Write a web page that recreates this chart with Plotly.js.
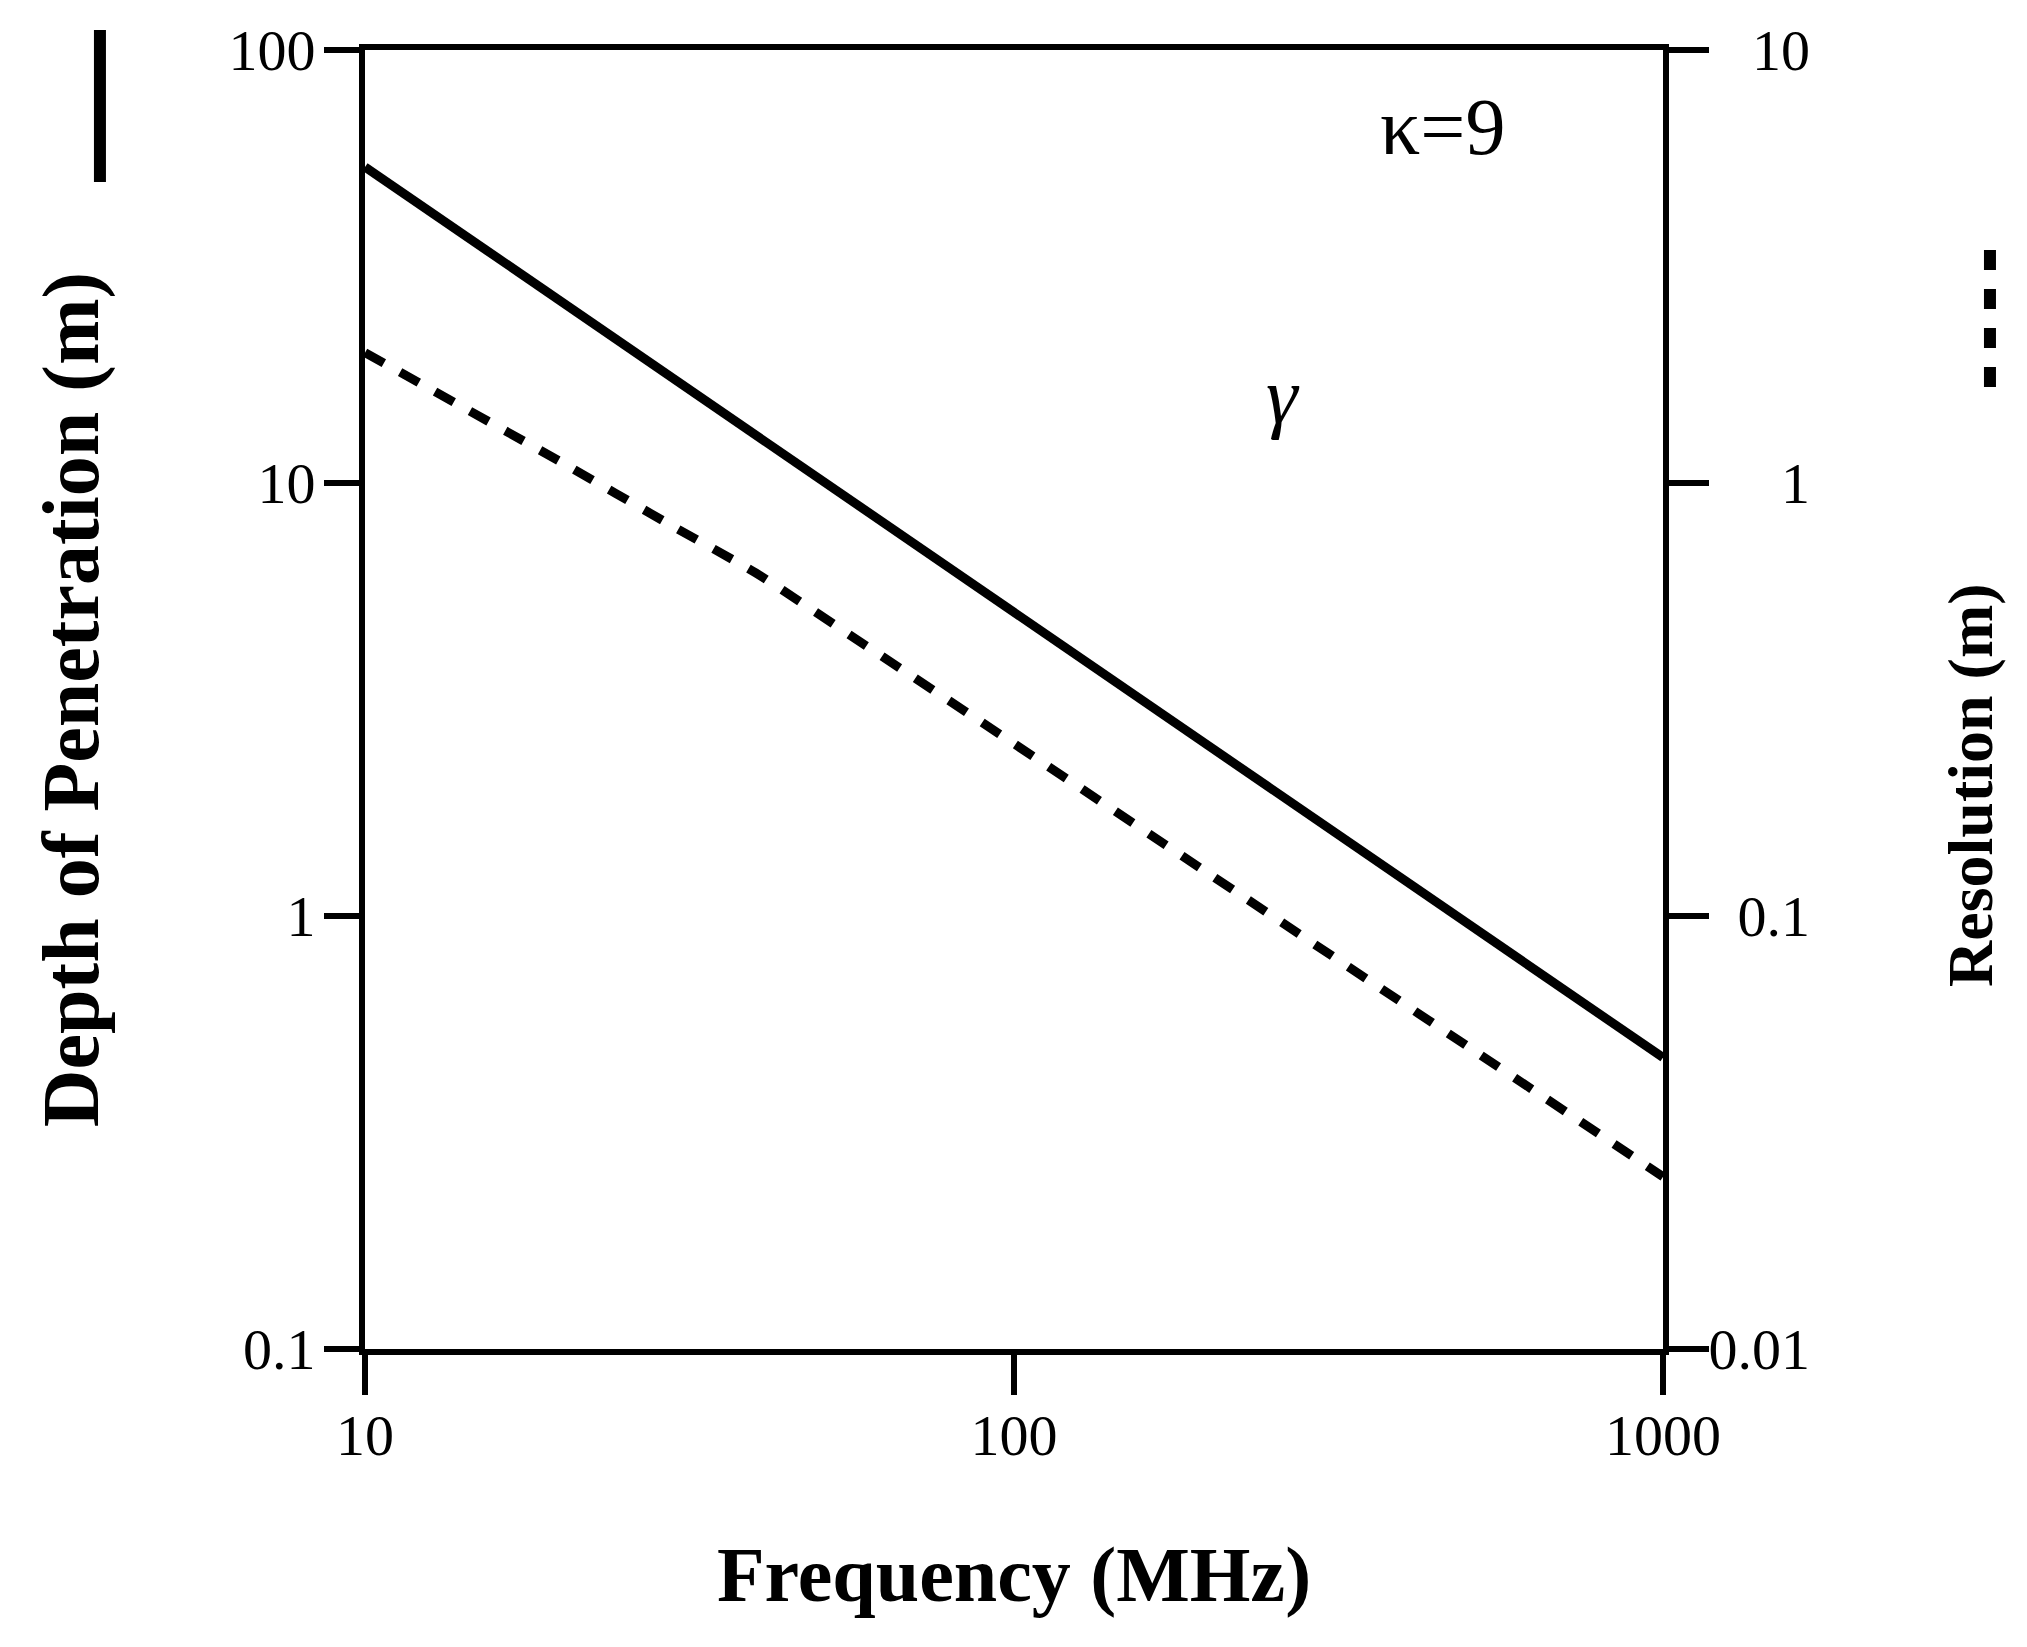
<!DOCTYPE html>
<html>
<head>
<meta charset="utf-8">
<script src="https://cdn.plot.ly/plotly-3.0.1.min.js"></script>
<style>html,body{margin:0;padding:0;background:#fff;}#chart{width:2027px;height:1647px;}</style>
</head>
<body>
<div id="chart"></div>
<script>
// Depth of penetration (left axis, m) vs frequency (MHz)
const depthFreq = [10, 30, 100, 300, 1000];
const depthValues = [53.7, 17.4, 5.03, 1.63, 0.471];

// Resolution (right axis, m) vs frequency (MHz)
const resFreq = [10, 20, 30, 40, 60, 100, 200, 500, 1000];
const resValues = [2.0, 1.12, 0.79, 0.62, 0.415, 0.25, 0.125, 0.05, 0.025];

// Tick labels
const xTicks = [10, 100, 1000];
const xTickText = ["10", "100", "1000"];
const yTicks = [0.1, 1, 10, 100];
const yTickText = ["0.1", "1", "10", "100"];
const y2Ticks = [0.01, 0.1, 1, 10];
const y2TickText = ["0.01", "\u20070.1", "\u2007\u2008\u20071", "\u2007\u200810"];

const serif = "Liberation Serif, Times New Roman, serif";

const traces = [
  {x: depthFreq, y: depthValues, type: "scatter", mode: "lines", yaxis: "y",
   line: {color: "#000", width: 9}, name: "Depth of Penetration", showlegend: false},
  {x: resFreq, y: resValues, type: "scatter", mode: "lines", yaxis: "y2",
   line: {color: "#000", width: 9, dash: "21px,19px", shape: "spline", smoothing: 0.6},
   name: "Resolution", showlegend: false}
];

const axisCommon = {
  type: "log", showgrid: false, zeroline: false, showline: true,
  linecolor: "#000", linewidth: 6, ticks: "outside", ticklen: 36, tickwidth: 6,
  tickcolor: "#000", tickfont: {family: serif, size: 58, color: "#000"}
};

const layout = {
  width: 2027, height: 1647,
  margin: {l: 365, r: 364, t: 50, b: 298},
  paper_bgcolor: "#fff", plot_bgcolor: "#fff",
  showlegend: false,
  xaxis: Object.assign({}, axisCommon, {
    range: [1, 3], tickvals: xTicks, ticktext: xTickText, mirror: true,
    ticklen: 40, ticklabelstandoff: -10,
    title: {text: "<b>Frequency (MHz)</b>", font: {family: serif, size: 78, color: "#000"}, standoff: 82}
  }),
  yaxis: Object.assign({}, axisCommon, {
    range: [-1, 2], tickvals: yTicks, ticktext: yTickText, ticklen: 35,
    ticklabelstandoff: -3,
    title: {text: "<b>Depth of Penetration (m)</b>", font: {family: serif, size: 80, color: "#000"}, standoff: 105}
  }),
  yaxis2: Object.assign({}, axisCommon, {
    range: [-2, 1], tickvals: y2Ticks, ticktext: y2TickText, ticklen: 40,
    overlaying: "y", side: "right", ticklabelstandoff: -12
  }),
  annotations: [
    {text: "\u03ba=9", xref: "paper", yref: "paper", x: 0.8305, y: 0.9407,
     xanchor: "center", yanchor: "middle", showarrow: false,
     font: {family: serif, size: 80, color: "#000"}},
    {text: "<i>\u03b3</i>", xref: "paper", yref: "paper", x: 0.7072, y: 0.7336,
     xanchor: "center", yanchor: "middle", showarrow: false,
     font: {family: serif, size: 80, color: "#000"}},
    {text: "<b>Resolution (m)</b>", xref: "paper", yref: "paper", x: 1.2373, y: 0.4342,
     xanchor: "center", yanchor: "middle", textangle: -90, showarrow: false,
     font: {family: serif, size: 64, color: "#000"}}
  ],
  shapes: [
    {type: "line", xref: "paper", yref: "paper", x0: -0.2042, x1: -0.2042, y0: 1.0154, y1: 0.8984,
     line: {color: "#000", width: 12}},
    {type: "line", xref: "paper", yref: "paper", x0: 1.2519, x1: 1.2519, y0: 0.846, y1: 0.7398,
     line: {color: "#000", width: 12, dash: "20px,19px"}}
  ]
};

Plotly.newPlot("chart", traces, layout, {displayModeBar: false, staticPlot: true});
</script>
</body>
</html>
